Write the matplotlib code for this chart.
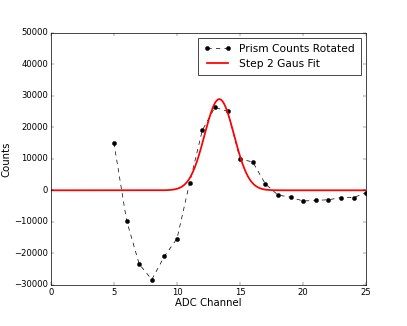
import numpy as np
import matplotlib
matplotlib.use('Agg')
import matplotlib.pyplot as plt

plt.style.use('classic')

# Data
channels = [5, 6, 7, 8, 9, 10, 11, 12, 13, 14, 15, 16, 17, 18, 19, 20, 21, 22, 23, 24, 25]
counts = [15000, -9600, -23400, -28300, -20900, -15300, 2400, 19000, 26300, 25000,
          9900, 9000, 2000, -1500, -2200, -3400, -3200, -3000, -2300, -2300, -700]

# Gaussian fit parameters (amplitude, mean, sigma)
fit_amp = 28900
fit_mean = 13.35
fit_sigma = 1.17

fit_x = np.linspace(0, 25, 500)
fit_y = fit_amp * np.exp(-(fit_x - fit_mean) ** 2 / (2 * fit_sigma ** 2))

fig = plt.figure(figsize=(8, 6.408), dpi=50.875)
ax = fig.add_axes([0.125, 0.126, 0.775, 0.774])

ax.plot(channels, counts, 'k--', marker='o', markersize=6, lw=1, label='Prism Counts Rotated')
ax.plot(fit_x, fit_y, 'r-', lw=2.5, label='Step 2 Gaus Fit')

ax.set_xlim(0, 25)
ax.set_ylim(-30000, 50000)
ax.tick_params(labelsize=12)
ax.set_xlabel('ADC Channel', fontsize=14.4, labelpad=2)
ax.set_ylabel('Counts', fontsize=14.4, labelpad=4)
ax.legend(loc='upper right', fontsize=15, handlelength=2.6, borderpad=0.55)

fig.savefig('out.png', dpi=fig.dpi)
